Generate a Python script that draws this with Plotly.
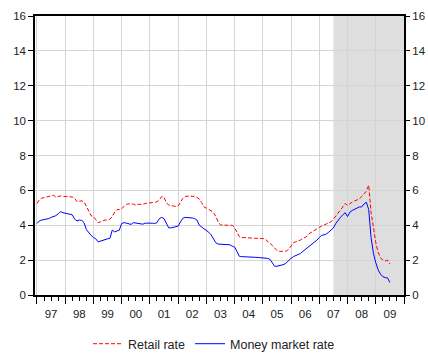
import plotly.graph_objects as go

years = list(range(1997, 2010))
year_labels = ["97", "98", "99", "00", "01", "02", "03", "04", "05", "06", "07", "08", "09"]

retail_rate = [
    5.25, 5.45, 5.55, 5.58, 5.60, 5.62, 5.65, 5.72, 5.62, 5.66, 5.68, 5.66,  # 1997
    5.66, 5.66, 5.65, 5.62, 5.55, 5.35, 5.38, 5.40, 5.35, 5.10, 4.80, 4.55,  # 1998
    4.50, 4.30, 4.15, 4.20, 4.25, 4.30, 4.30, 4.35, 4.50, 4.75, 4.90, 4.90,  # 1999
    4.95, 5.10, 5.20, 5.22, 5.25, 5.20, 5.15, 5.20, 5.18, 5.20, 5.25, 5.28,  # 2000
    5.30, 5.30, 5.30, 5.35, 5.45, 5.65, 5.60, 5.30, 5.15, 5.12, 5.10, 5.08,  # 2001
    5.10, 5.35, 5.55, 5.65, 5.68, 5.68, 5.66, 5.66, 5.60, 5.50, 5.30, 5.05,  # 2002
    4.98, 4.90, 4.85, 4.75, 4.50, 4.20, 4.02, 4.00, 4.00, 4.00, 4.00, 4.00,  # 2003
    3.85, 3.55, 3.35, 3.30, 3.30, 3.28, 3.28, 3.27, 3.26, 3.25, 3.25, 3.25,  # 2004
    3.24, 3.20, 3.10, 3.00, 2.85, 2.70, 2.55, 2.50, 2.50, 2.50, 2.52, 2.62,  # 2005
    2.80, 3.00, 3.05, 3.10, 3.15, 3.25, 3.30, 3.40, 3.55, 3.62, 3.72, 3.80,  # 2006
    3.88, 3.95, 4.02, 4.10, 4.15, 4.20, 4.35, 4.55, 4.72, 4.88, 5.05, 5.25,  # 2007
    5.14, 5.25, 5.33, 5.40, 5.43, 5.50, 5.65, 5.80, 5.95, 6.30, 4.75, 3.90,  # 2008
    3.00, 2.45, 2.15, 2.00, 1.95, 2.00, 1.78,                                # 2009
]

money_market_rate = [
    4.10, 4.25, 4.30, 4.32, 4.35, 4.38, 4.45, 4.50, 4.55, 4.65, 4.78, 4.72,  # 1997
    4.68, 4.63, 4.63, 4.60, 4.35, 4.25, 4.30, 4.28, 4.15, 3.75, 3.55, 3.42,  # 1998
    3.30, 3.22, 3.05, 3.10, 3.15, 3.20, 3.22, 3.25, 3.72, 3.62, 3.65, 3.72,  # 1999
    4.10, 4.15, 4.12, 4.08, 4.05, 4.15, 4.12, 4.08, 4.06, 4.06, 4.12, 4.13,  # 2000
    4.12, 4.12, 4.10, 4.15, 4.38, 4.45, 4.38, 4.15, 3.85, 3.85, 3.88, 3.92,  # 2001
    3.95, 4.20, 4.40, 4.45, 4.45, 4.45, 4.42, 4.38, 4.30, 4.00, 3.90, 3.85,  # 2002
    3.75, 3.60, 3.45, 3.20, 3.00, 2.92, 2.92, 2.92, 2.92, 2.90, 2.88, 2.80,  # 2003
    2.75, 2.50, 2.22, 2.20, 2.20, 2.20, 2.20, 2.20, 2.18, 2.16, 2.15, 2.14,  # 2004
    2.13, 2.12, 2.10, 2.05, 1.85, 1.65, 1.65, 1.68, 1.70, 1.75, 1.85, 2.00,  # 2005
    2.10, 2.20, 2.25, 2.30, 2.38, 2.50, 2.60, 2.72, 2.85, 2.95, 3.05, 3.15,  # 2006
    3.30, 3.42, 3.45, 3.50, 3.60, 3.72, 3.85, 4.10, 4.30, 4.45, 4.60, 4.72,  # 2007
    4.50, 4.75, 4.85, 4.92, 4.98, 5.05, 5.05, 5.22, 5.32, 4.90, 3.30, 2.40,  # 2008
    1.85, 1.45, 1.20, 1.05, 1.00, 0.98, 0.72,                                # 2009
]

shade_period = [2007.5, 2010.0]

n = len(retail_rate)
t = [1997 + i / 12 for i in range(n)]

fig = go.Figure()
fig.add_trace(go.Scatter(x=t, y=retail_rate, mode="lines", name="Retail rate",
                         xaxis="x", yaxis="y",
                         line=dict(color="#ff0000", width=1, dash="4px,2px")))
fig.add_trace(go.Scatter(x=t, y=money_market_rate, mode="lines", name="Money market rate",
                         xaxis="x2", yaxis="y2",
                         line=dict(color="#0000ff", width=1)))

fig.add_shape(type="rect", xref="x", yref="paper", x0=shade_period[0], x1=shade_period[1],
              y0=0, y1=1, fillcolor="#dedede", line=dict(width=0), layer="below")

xr = [1996.93, 2010.0]
fam = "Liberation Sans, Arial, sans-serif"
tickfont = dict(family=fam, size=11.5, color="#222222")
yt = list(range(0, 17, 2))

fig.update_layout(
    width=428, height=354,
    margin=dict(l=35, r=24, t=16, b=59),
    paper_bgcolor="white", plot_bgcolor="white",
    font=dict(family=fam, size=11, color="#222222"),
    showlegend=True,
    legend=dict(orientation="h", x=0.5, xanchor="center", xref="container",
                y=0.028, yanchor="middle", yref="container",
                font=dict(family=fam, size=12.5, color="#222222"),
                itemwidth=30, tracegroupgap=0, bgcolor="rgba(0,0,0,0)"),
    xaxis=dict(range=xr, tickmode="array", tickvals=[y + 0.5 for y in years], ticktext=year_labels,
               ticks="", showgrid=False, zeroline=False, tickfont=tickfont, automargin=False,
               showline=True, linecolor="black", linewidth=1.5, mirror=True,
               minor=dict(tickmode="array", tickvals=[y + q * 0.25 for y in years for q in range(4)] + [2010.0],
                          ticks="outside", ticklen=4, tickcolor="black", showgrid=False),
               ticklabelstandoff=7),
    xaxis2=dict(range=xr, overlaying="x", anchor="y2", side="bottom", tickmode="array",
                tickvals=years + [2010], ticks="outside", ticklen=8, tickcolor="black",
                showticklabels=False, showgrid=True, gridcolor="#d4d4d4", gridwidth=1,
                zeroline=False, showline=False, automargin=False),
    yaxis=dict(range=[0, 16], tickmode="array", tickvals=yt, ticks="outside", ticklen=5,
               tickcolor="black", showgrid=True, gridcolor="#d4d4d4", gridwidth=1,
               zeroline=False, showline=True, linecolor="black", linewidth=1.5, mirror=True,
               tickfont=tickfont, automargin=False),
    yaxis2=dict(range=[0, 16], overlaying="y", anchor="x2", side="right", tickmode="array",
                tickvals=yt, ticks="outside", ticklen=5, tickcolor="black", showgrid=False,
                zeroline=False, showline=False, tickfont=tickfont, automargin=False),
)

fig.write_html("out.html")
